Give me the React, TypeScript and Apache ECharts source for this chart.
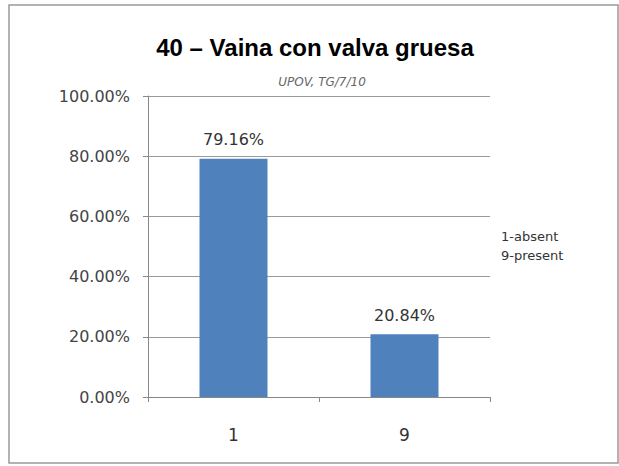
import React, { useEffect, useRef } from "react";
import * as echarts from "echarts";

const categories = ["1", "9"];
const values = [79.16, 20.84];
const yTicks = [0, 20, 40, 60, 80, 100];
const titleText = "40 – Vaina con valva gruesa";
const subtitleText = "UPOV, TG/7/10";
const legendLines = ["1-absent", "9-present"];

export default function App() {
  const ref = useRef<HTMLDivElement>(null);
  useEffect(() => {
    if (!ref.current) return;
    const chart = echarts.init(ref.current, undefined, { renderer: "svg" });
    const font = "'DejaVu Sans', 'Open Sans', sans-serif";
    chart.setOption({
      animation: false,
      backgroundColor: "#ffffff",
      title: [
        {
          text: titleText,
          left: 310,
          textAlign: "center",
          top: 30,
          textStyle: { fontFamily: "'Liberation Sans', Arial, sans-serif", fontWeight: "bold", fontSize: 24, color: "#000" },
        },
        {
          text: subtitleText,
          left: 317,
          textAlign: "center",
          top: 71,
          textStyle: { fontFamily: font, fontStyle: "italic", fontWeight: "normal", fontSize: 12, color: "#666" },
        },
      ],
      grid: { left: 148, right: 129, top: 96, bottom: 69, containLabel: false },
      xAxis: {
        type: "category",
        data: categories,
        boundaryGap: true,
        axisLine: { show: true, lineStyle: { color: "#888", width: 1 } },
        axisTick: { show: true, length: 5, inside: false, lineStyle: { color: "#888" } },
        axisLabel: { margin: 29, fontSize: 17, color: "#333", fontFamily: font },
      },
      yAxis: {
        type: "value",
        min: 0,
        max: 100,
        interval: 20,
        axisLine: { show: true, lineStyle: { color: "#888", width: 1 } },
        axisTick: { show: true, length: 5, lineStyle: { color: "#888" } },
        splitLine: { show: true, lineStyle: { color: "#999", width: 1 } },
        axisLabel: {
          margin: 18,
          fontSize: 16,
          color: "#444",
          fontFamily: font,
          formatter: (v: number) => (yTicks.includes(v) ? v.toFixed(2) + "%" : ""),
        },
      },
      series: [
        {
          type: "bar",
          data: values,
          barWidth: 68,
          itemStyle: { color: "#4F81BD" },
          label: {
            show: true,
            position: "top",
            distance: 11,
            fontSize: 16,
            color: "#333",
            fontFamily: font,
            formatter: (p: any) => p.value.toFixed(2) + "%",
          },
        },
      ],
      graphic: [
        {
          type: "rect",
          shape: { x: 9, y: 5, width: 609, height: 458 },
          style: { fill: "none", stroke: "#999", lineWidth: 1.5 },
          silent: true,
        },
        {
          type: "text",
          left: 501,
          top: 227,
          style: {
            text: legendLines.join("\n"),
            fontSize: 13,
            lineHeight: 19,
            fill: "#333",
            fontFamily: font,
          },
        },
      ],
    });
    return () => chart.dispose();
  }, []);
  return (
    <div
      ref={ref}
      style={{ position: "fixed", left: 0, top: 0, width: 619, height: 466 }}
    />
  );
}
